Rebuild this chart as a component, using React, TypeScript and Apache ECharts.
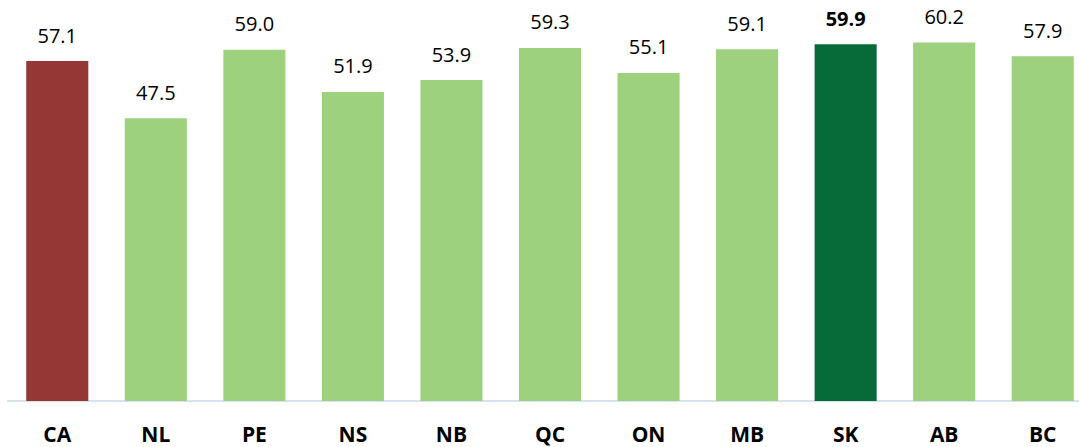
import React, { useEffect, useRef } from "react";
import * as echarts from "echarts";

const categories = ["CA", "NL", "PE", "NS", "NB", "QC", "ON", "MB", "SK", "AB", "BC"];
const values = [57.1, 47.5, 59.0, 51.9, 53.9, 59.3, 55.1, 59.1, 59.9, 60.2, 57.9];
const barColors = ["#953735", "#9dd17e", "#9dd17e", "#9dd17e", "#9dd17e", "#9dd17e", "#9dd17e", "#9dd17e", "#066b38", "#9dd17e", "#9dd17e"];
const boldLabels = ["SK"];

export default function App() {
  const ref = useRef<HTMLDivElement>(null);
  useEffect(() => {
    if (!ref.current) return;
    const chart = echarts.init(ref.current, undefined, { renderer: "svg" });
    chart.setOption({
      animation: false,
      grid: { left: 8, right: 0, top: 14, bottom: 46, containLabel: false },
      xAxis: {
        type: "category",
        data: categories,
        axisLine: { show: true, lineStyle: { color: "#d6e2f0", width: 2 } },
        axisTick: { show: false },
        axisLabel: {
          margin: 23,
          fontFamily: "Open Sans",
          fontWeight: "bold",
          fontSize: 21,
          lineHeight: 20,
          color: "#000",
        },
      },
      yAxis: {
        type: "value",
        min: 0,
        max: 65,
        show: false,
        splitLine: { show: false },
      },
      series: [
        {
          type: "bar",
          barWidth: "63%",
          data: values.map((v, i) => ({
            value: v,
            itemStyle: { color: barColors[i] },
            label: {
              fontWeight: boldLabels.includes(categories[i]) ? "bold" : "normal",
            },
          })),
          label: {
            show: true,
            position: "top",
            distance: 16,
            fontFamily: "Open Sans",
            fontSize: 20,
            color: "#000",
            formatter: (p: any) => Number(p.value).toFixed(1),
          },
        },
      ],
    });
    return () => chart.dispose();
  }, []);
  return (
    <div style={{ position: "fixed", left: 0, top: 0, width: 1079, height: 447, overflow: "hidden", background: "#fff" }}>
      <div ref={ref} style={{ width: 1092, height: 447 }} />
    </div>
  );
}
